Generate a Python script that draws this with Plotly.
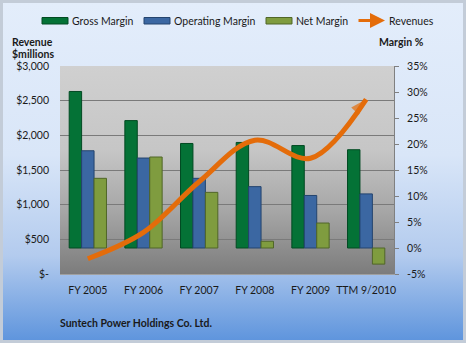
import base64
import plotly.graph_objects as go

categories = ["FY 2005", "FY 2006", "FY 2007", "FY 2008", "FY 2009", "TTM 9/2010"]
gross_margin = [30.1, 24.5, 20.1, 20.3, 19.7, 18.9]
operating_margin = [18.7, 17.3, 13.4, 11.8, 10.1, 10.4]
net_margin = [13.4, 17.5, 10.7, 1.3, 4.8, -3.1]
revenues = [220, 600, 1330, 1930, 1670, 2520]

rev_tickvals = [0, 500, 1000, 1500, 2000, 2500, 3000]
rev_ticktext = ["$-", "$500", "$1,000", "$1,500", "$2,000", "$2,500", "$3,000"]
pct_tickvals = [-5, 0, 5, 10, 15, 20, 25, 30, 35]
pct_ticktext = ["-5%", "0%", "5%", "10%", "15%", "20%", "25%", "30%", "35%"]

W, H = 466, 343
ML, MR, MT, MB = 60, 72, 66, 69
PW, PH = W - ML - MR, H - MT - MB

FONT = "Lato, 'Open Sans', sans-serif"
FS = 10.5
ORANGE = "#e46c0a"


def px(xp):
    return (xp - ML) / PW


def py(yp):
    return (H - MB - yp) / PH


def svg_uri(svg):
    return "data:image/svg+xml;base64," + base64.b64encode(svg.encode()).decode()


paper_svg = f"""<svg xmlns='http://www.w3.org/2000/svg' width='{W}' height='{H}' viewBox='0 0 {W} {H}' preserveAspectRatio='none'>
<defs><linearGradient id='g' x1='0' y1='0' x2='0' y2='1'>
<stop offset='0' stop-color='#e3edfb'/>
<stop offset='0.45' stop-color='#d9e6f8'/>
<stop offset='0.75' stop-color='#b3cbee'/>
<stop offset='1' stop-color='#5f95dd'/>
</linearGradient></defs>
<rect x='0' y='0' width='{W}' height='{H}' fill='#c3ccd8'/>
<rect x='3' y='3' width='{W-6}' height='{H-6}' fill='url(#g)'/>
</svg>"""

plot_svg = f"""<svg xmlns='http://www.w3.org/2000/svg' width='{PW}' height='{PH}' viewBox='0 0 {PW} {PH}' preserveAspectRatio='none'>
<defs><linearGradient id='p' x1='0' y1='0' x2='0' y2='1'>
<stop offset='0' stop-color='#d0d0d0'/>
<stop offset='0.4' stop-color='#c6c6c6'/>
<stop offset='0.7' stop-color='#a6a6a6'/>
<stop offset='1' stop-color='#7c7c7c'/>
</linearGradient></defs>
<rect x='0' y='0' width='{PW}' height='{PH}' fill='url(#p)'/>
</svg>"""

fig = go.Figure()

bar_specs = [
    ("Gross Margin", gross_margin, "#047236", "#024a22"),
    ("Operating Margin", operating_margin, "#3b67a2", "#24446e"),
    ("Net Margin", net_margin, "#7f9c3f", "#506628"),
]
for name, vals, col, edge in bar_specs:
    fig.add_trace(go.Bar(
        x=categories, y=vals, name=name, yaxis="y",
        marker=dict(color=col, line=dict(color=edge, width=1)),
    ))

n = len(revenues)
fig.add_trace(go.Scatter(
    x=categories, y=revenues, name="Revenues", yaxis="y2",
    mode="lines+markers",
    line=dict(color=ORANGE, width=5, shape="spline", smoothing=1.0),
    marker=dict(symbol="arrow", angleref="previous",
                size=[0] * (n - 1) + [17], color=ORANGE,
                line=dict(width=0)),
))

# custom legend (swatches + labels)
shapes = []
annotations = []
legend_items = [
    ("Gross Margin", 42, "#047236", "#024a22"),
    ("Operating Margin", 144, "#3b67a2", "#24446e"),
    ("Net Margin", 266, "#7f9c3f", "#506628"),
]
for name, x0, col, edge in legend_items:
    shapes.append(dict(type="rect", xref="paper", yref="paper",
                       x0=px(x0), x1=px(x0 + 26), y0=py(24), y1=py(17.5),
                       fillcolor=col, line=dict(color=edge, width=1),
                       layer="above"))
    annotations.append(dict(text=name, xref="paper", yref="paper",
                            x=px(x0 + 28), y=py(20.5), xanchor="left",
                            yanchor="middle", showarrow=False,
                            font=dict(size=FS)))
annotations.append(dict(text="", xref="paper", yref="paper",
                        x=px(385), y=py(20.5), ax=-28, ay=0,
                        showarrow=True, arrowhead=2, arrowsize=1,
                        arrowwidth=3, arrowcolor=ORANGE))
annotations.append(dict(text="Revenues", xref="paper", yref="paper",
                        x=px(387), y=py(20.5), xanchor="left",
                        yanchor="middle", showarrow=False,
                        font=dict(size=FS)))

annotations += [
    dict(text="<b>Revenue</b>", xref="paper", yref="paper",
         x=px(10), y=py(42), xanchor="left", yanchor="middle",
         showarrow=False, font=dict(size=FS)),
    dict(text="<b>$millions</b>", xref="paper", yref="paper",
         x=px(10), y=py(54), xanchor="left", yanchor="middle",
         showarrow=False, font=dict(size=FS)),
    dict(text="<b>Margin %</b>", xref="paper", yref="paper",
         x=px(426), y=py(42), xanchor="right", yanchor="middle",
         showarrow=False, font=dict(size=FS)),
    dict(text="<b>Suntech Power Holdings Co. Ltd.</b>", xref="paper",
         yref="paper", x=px(58), y=py(323), xanchor="left",
         yanchor="middle", showarrow=False, font=dict(size=FS)),
]

fig.update_layout(
    width=W, height=H,
    margin=dict(l=ML, r=MR, t=MT, b=MB, pad=0),
    paper_bgcolor="#dde8f8",
    plot_bgcolor="rgba(0,0,0,0)",
    font=dict(family=FONT, size=FS, color="#1a1a1a"),
    barmode="group", bargap=0.33, bargroupgap=0,
    showlegend=False,
    xaxis=dict(showgrid=False, showline=True, linecolor="#a0a0a0", linewidth=1,
               ticks="", tickfont=dict(size=FS), zeroline=False,
               ticklabelstandoff=6),
    yaxis=dict(side="right", range=[-5, 35], tickvals=pct_tickvals,
               ticktext=pct_ticktext, showgrid=False, zeroline=False,
               showline=True, linecolor="#808080", linewidth=1,
               ticks="outside", ticklen=4, tickcolor="#808080",
               tickfont=dict(size=FS), ticklabelstandoff=6),
    yaxis2=dict(side="left", overlaying="y", range=[0, 3000],
                tickvals=rev_tickvals, ticktext=rev_ticktext,
                showgrid=True, gridcolor="#7a7a7a", gridwidth=1,
                zeroline=False, showline=False, ticks="",
                tickfont=dict(size=FS), ticklabelstandoff=10),
    images=[
        dict(source=svg_uri(paper_svg), xref="paper", yref="paper",
             x=-ML / PW, y=1 + MT / PH, sizex=W / PW, sizey=H / PH,
             xanchor="left", yanchor="top", sizing="stretch", layer="below"),
        dict(source=svg_uri(plot_svg), xref="paper", yref="paper",
             x=0, y=1, sizex=1, sizey=1,
             xanchor="left", yanchor="top", sizing="stretch", layer="below"),
    ],
    shapes=shapes,
    annotations=annotations,
)

fig.write_html("out.html")
